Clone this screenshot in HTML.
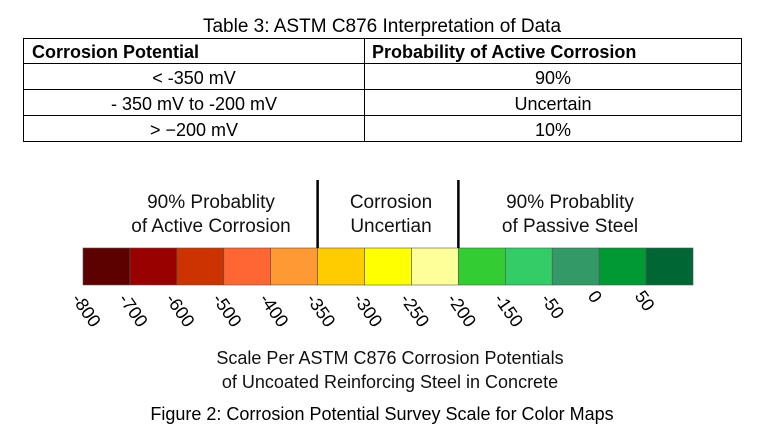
<!DOCTYPE html>
<html><head><meta charset="utf-8"><style>
body{margin:0;background:#fff;width:760px;height:440px;overflow:hidden;font-family:"Liberation Sans",Arial,sans-serif}
</style></head><body>
<svg width="760" height="440" xmlns="http://www.w3.org/2000/svg" font-family="Liberation Sans, Arial, sans-serif">
<text x="382" y="32" font-size="19" text-anchor="middle">Table 3: ASTM C876 Interpretation of Data</text>
<g stroke="#000" stroke-width="1" fill="none">
<rect x="23.5" y="38.5" width="718" height="103"/>
<line x1="23" y1="63.5" x2="742" y2="63.5"/><line x1="23" y1="89.5" x2="742" y2="89.5"/><line x1="23" y1="115.5" x2="742" y2="115.5"/>
<line x1="364.5" y1="38" x2="364.5" y2="142"/>
</g>
<g font-size="18">
<text x="32" y="58" font-weight="bold">Corrosion Potential</text>
<text x="372" y="58" font-weight="bold">Probability of Active Corrosion</text>
<text x="194" y="84" text-anchor="middle">&lt; -350 mV</text>
<text x="553" y="84" text-anchor="middle">90%</text>
<text x="194" y="110" text-anchor="middle">- 350 mV to -200 mV</text>
<text x="553" y="110" text-anchor="middle">Uncertain</text>
<text x="194" y="136" text-anchor="middle">&gt; −200 mV</text>
<text x="553" y="136" text-anchor="middle">10%</text>
</g>
<g font-size="19" text-anchor="middle" fill="#111">
<text x="211" y="208">90% Probablity</text>
<text x="211" y="232">of Active Corrosion</text>
<text x="391" y="208">Corrosion</text>
<text x="391" y="232">Uncertian</text>
<text x="570" y="208">90% Probablity</text>
<text x="570" y="232">of Passive Steel</text>
</g>
<g id="scale"></g>
<g font-size="18" text-anchor="middle" fill="#111">
<text x="390" y="364">Scale Per ASTM C876 Corrosion Potentials</text>
<text x="390" y="388">of Uncoated Reinforcing Steel in Concrete</text>
</g>
<text x="382" y="420" font-size="18" text-anchor="middle">Figure 2: Corrosion Potential Survey Scale for Color Maps</text>
</svg>
<script>
const tickLabels = ["-800","-700","-600","-500","-400","-350","-300","-250","-200","-150","-50","0","50"];
const cellColors = ["#5c0000","#990000","#cc3300","#ff6633","#ff9933","#ffcc00","#ffff00","#ffff99","#33cc33","#33cc66","#339966","#009933","#006633"];
const dividerIdx = [5, 8];
const NS = "http://www.w3.org/2000/svg";
const g = document.getElementById("scale");
const x0 = 83, x1 = 693, y0 = 248, h = 37;
const cw = (x1 - x0) / cellColors.length;
const xAt = i => x0 + i * cw;
cellColors.forEach((c, i) => {
  const r = document.createElementNS(NS, "rect");
  r.setAttribute("x", xAt(i)); r.setAttribute("y", y0);
  r.setAttribute("width", cw); r.setAttribute("height", h);
  r.setAttribute("fill", c); r.setAttribute("stroke", "#555"); r.setAttribute("stroke-width", "0.6");
  
  
  g.appendChild(r);
});
dividerIdx.forEach(i => {
  const l = document.createElementNS(NS, "line");
  l.setAttribute("x1", xAt(i)); l.setAttribute("x2", xAt(i));
  l.setAttribute("y1", 180); l.setAttribute("y2", y0);
  l.setAttribute("stroke", "#000"); l.setAttribute("stroke-width", "2.5");
  
  
  g.appendChild(l);
});
tickLabels.forEach((t, i) => {
  const x = xAt(i) - 12, y = t.length <= 2 ? 296 : 299;
  const tx = document.createElementNS(NS, "text");
  tx.setAttribute("x", x); tx.setAttribute("y", y);
  tx.setAttribute("font-size", "18");
  tx.setAttribute("transform", `rotate(55 ${x} ${y})`);
  tx.textContent = t;
  
  
  g.appendChild(tx);
});
</script>
</body></html>
